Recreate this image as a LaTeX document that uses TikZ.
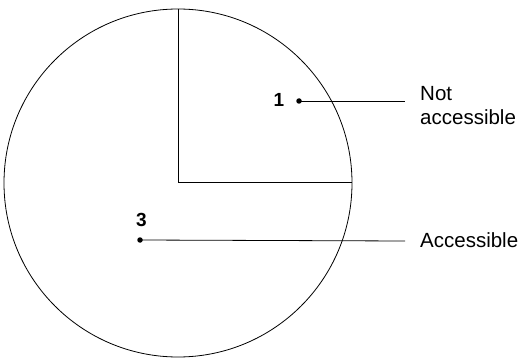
\documentclass[tikz,border=0pt]{standalone}
\usepackage{fontspec}
\setmainfont{Liberation Sans}
\begin{document}
\begin{tikzpicture}[x=1pt,y=-1pt,
  thinline/.style={line width=0.8pt,black},
  pointdot/.style={circle,fill=black,inner sep=0pt,minimum size=5.5pt},
  numlabel/.style={font=\fontsize{19}{22}\selectfont\bfseries,inner sep=0pt},
  textlabel/.style={font=\fontsize{20.5}{24}\selectfont,inner sep=0pt,align=left}]
\useasboundingbox (0,0) rectangle (527,358);
\coordinate (c) at (178,183);
\draw[thinline] (c) circle[radius=174];
\coordinate (top) at (178,9);
\coordinate (right) at (352,183);
\draw[line width=1pt] (top) -- (c) -- (right);
\node[pointdot] (p1) at (299,101) {};
\node[pointdot] (p3) at (140,240) {};
\node[numlabel] (l1) at (279,100) {1};
\node[numlabel] (l3) at (141.5,220) {3};
\coordinate (e1) at (405,101);
\coordinate (e3) at (405,241);
\draw[thinline] (p1.center) -- (e1);
\draw[thinline] (p3.center) -- (e3);
\node[textlabel,anchor=west] (na) at (420,105.5) {Not\\accessible};
\node[textlabel,anchor=base west] (acc) at (420,247) {Accessible};
\end{tikzpicture}
\end{document}
